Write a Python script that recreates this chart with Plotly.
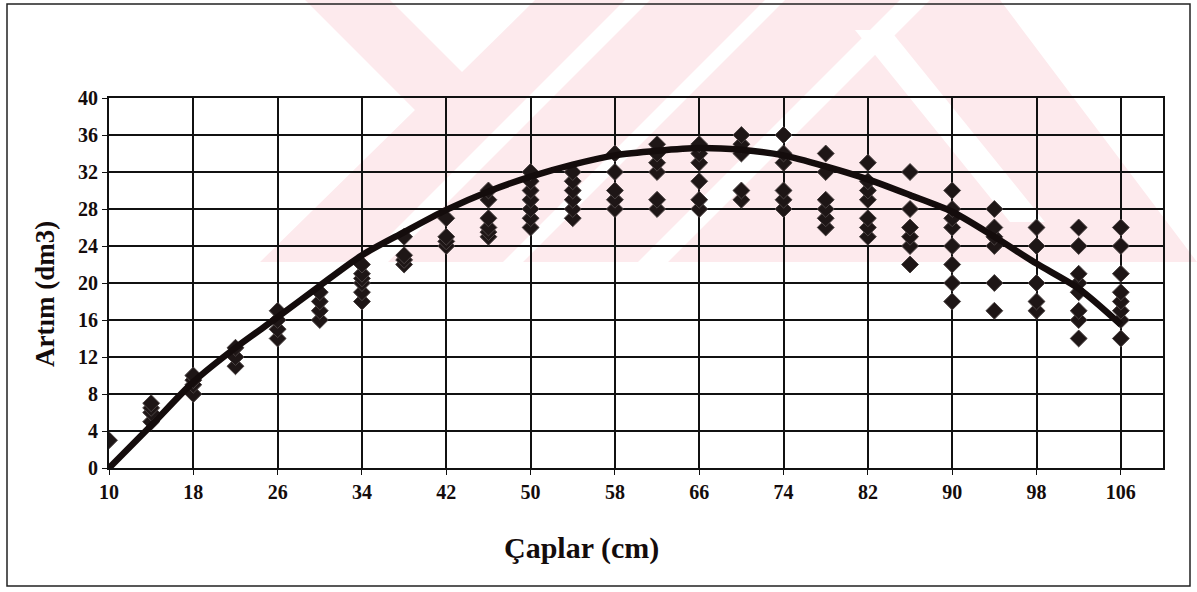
import plotly.graph_objects as go

# Diameter classes (cm) and the increment values (dm3) measured in each class
diameters = [10, 14, 18, 22, 26, 30, 34, 38, 42, 46, 50, 54, 58,
             62, 66, 70, 74, 78, 82, 86, 90, 94, 98, 102, 106]
increments = [
    [3],
    [5, 6, 6.5, 7],
    [8, 9, 9.5, 10],
    [11, 12, 13],
    [14, 15, 16, 17],
    [16, 17, 18, 19],
    [18, 19, 20, 20.5, 21, 22],
    [22, 22.5, 23, 25],
    [24, 24.5, 25, 27],
    [25, 25.5, 26, 27, 29, 30],
    [26, 27, 28, 29, 30, 31, 32],
    [27, 28, 29, 30, 31, 32],
    [28, 29, 30, 32, 34],
    [28, 29, 32, 33, 34, 35],
    [28, 29, 31, 33, 34, 35],
    [29, 30, 34, 35, 36],
    [28, 29, 30, 33, 34, 36],
    [26, 27, 28, 29, 32, 34],
    [25, 26, 27, 29, 30, 31, 33],
    [22, 24, 25, 26, 28, 32],
    [18, 20, 22, 24, 26, 27, 28, 30],
    [17, 20, 24, 25, 26, 28],
    [17, 18, 20, 24, 26],
    [14, 16, 17, 19, 20, 21, 24, 26],
    [14, 16, 17, 18, 19, 21, 24, 26],
]

# Fitted trend values at each diameter class
trend = [0, 4.6, 9.3, 13.0, 16.3, 19.7, 23.0, 25.5, 27.9, 29.9, 31.5, 32.8, 33.8,
         34.3, 34.6, 34.4, 33.8, 32.6, 31.2, 29.5, 27.7, 25.0, 22.1, 19.4, 15.5]

x_ticks = [10, 18, 26, 34, 42, 50, 58, 66, 74, 82, 90, 98, 106]
y_ticks = [0, 4, 8, 12, 16, 20, 24, 28, 32, 36, 40]

pts_x = [d for d, vals in zip(diameters, increments) for _ in vals]
pts_y = [v for vals in increments for v in vals]

ink = "#140c0c"
font_family = "Liberation Serif, Times New Roman, serif"

fig = go.Figure()
fig.add_trace(go.Scatter(
    x=pts_x, y=pts_y, mode="markers",
    marker=dict(symbol="diamond", size=13, color="#1e1616",
                line=dict(color="#4a4242", width=1)),
    showlegend=False, hoverinfo="x+y",
))
fig.add_trace(go.Scatter(
    x=diameters, y=trend, mode="lines",
    line=dict(color=ink, width=6.5, shape="spline", smoothing=0.8),
    showlegend=False, hoverinfo="skip",
))

# plot area in pixels: x 109..1163, y 98..468
L, R, T, B = 109, 34, 98, 124
W, H = 1197, 592
pw, ph = W - L - R, H - T - B


def px(x):
    return (x - L) / pw


def py(y):
    return (H - B - y) / ph


def poly(points, color):
    path = "M " + " L ".join(f"{px(a):.4f},{py(b):.4f}" for a, b in points) + " Z"
    return dict(type="path", xref="paper", yref="paper", path=path,
                fillcolor=color, line=dict(width=0), layer="below")


pink = "rgb(253,234,237)"
white = "white"

# faint striped emblem in the background
emblem = [
    poly([(305, 0), (1000, 0), (1197, 262), (260, 262), (415, 110)], pink),
    poly([(390, 0), (535, 0), (462, 72)], white),
    poly([(625, 0), (650, 0), (388, 262), (363, 262)], white),
    poly([(765, 0), (785, 0), (523, 262), (503, 262)], white),
    poly([(900, 0), (930, 0), (668, 262), (638, 262)], white),
    poly([(855, 30), (890, 30), (1045, 222), (1010, 222)], white),
]

frame = dict(type="rect", xref="paper", yref="paper",
             x0=px(7), x1=px(1190), y0=py(586), y1=py(4),
             line=dict(color="#222", width=1.5), fillcolor="rgba(0,0,0,0)",
             layer="below")

fig.update_layout(
    width=W, height=H,
    margin=dict(l=L, r=R, t=T, b=B),
    paper_bgcolor="white", plot_bgcolor="rgba(0,0,0,0)",
    font=dict(family=font_family, color=ink),
    xaxis=dict(
        range=[10, 110], tickmode="array", tickvals=x_ticks,
        ticktext=[str(t) for t in x_ticks],
        showgrid=True, gridcolor="#111", gridwidth=1.6,
        showline=True, linecolor="#111", linewidth=2, mirror=True,
        ticks="outside", ticklen=5, tickcolor="#111", zeroline=False,
        tickfont=dict(size=20, family=font_family, color=ink, weight="bold"),
    ),
    yaxis=dict(
        range=[0, 40], tickmode="array", tickvals=y_ticks,
        showgrid=True, gridcolor="#111", gridwidth=1.6,
        showline=True, linecolor="#111", linewidth=2, mirror=True,
        ticks="outside", ticklen=5, tickcolor="#111", zeroline=False,
        tickfont=dict(size=20, family=font_family, color=ink, weight="bold"),
    ),
    shapes=emblem + [frame],
    annotations=[
        dict(text="<b>Çaplar (cm)</b>", xref="paper", yref="paper",
             x=px(581), y=py(548), xanchor="center", yanchor="middle",
             showarrow=False,
             font=dict(size=30, family=font_family, color=ink)),
        dict(text="<b>Artım (dm3)</b>", xref="paper", yref="paper",
             x=px(45), y=py(294), xanchor="center", yanchor="middle",
             showarrow=False, textangle=-90,
             font=dict(size=27, family=font_family, color=ink)),
    ],
)

fig.write_html("out.html")
